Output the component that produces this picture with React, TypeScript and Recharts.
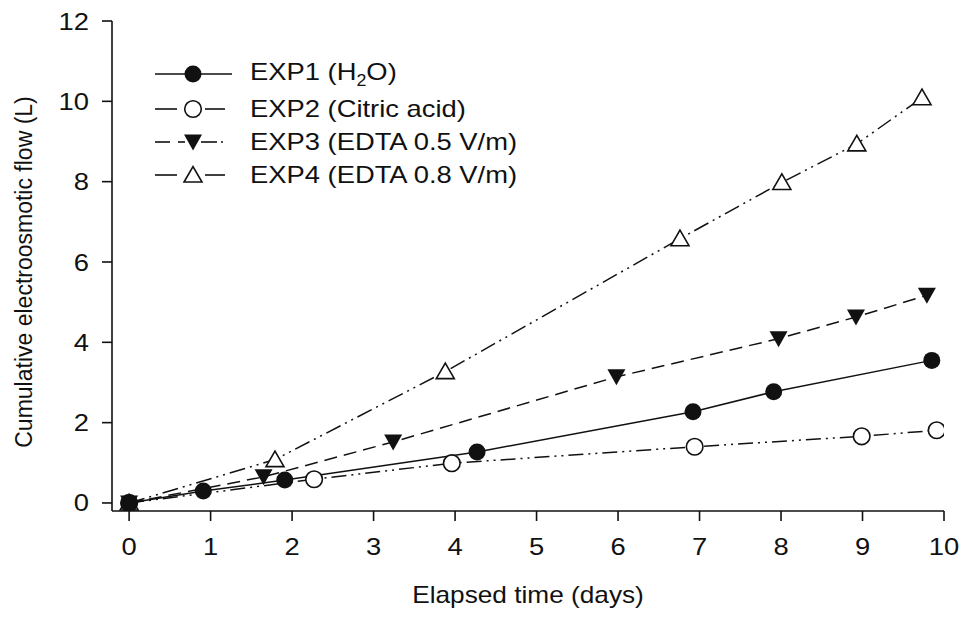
import React from 'react';
import { LineChart, Line, XAxis, YAxis, Legend } from 'recharts';

const exp1X = [0, 0.91, 1.91, 4.27, 6.92, 7.91, 9.85];
const exp1Y = [0, 0.3, 0.57, 1.27, 2.27, 2.77, 3.55];
const exp2X = [0, 2.27, 3.96, 6.94, 8.99, 9.91];
const exp2Y = [0, 0.59, 0.99, 1.4, 1.66, 1.81];
const exp3X = [0, 1.65, 3.24, 5.98, 7.97, 8.92, 9.79];
const exp3Y = [0, 0.65, 1.52, 3.14, 4.09, 4.63, 5.17];
const exp4X = [0, 1.79, 3.88, 6.76, 8.01, 8.93, 9.73];
const exp4Y = [0, 1.08, 3.27, 6.58, 7.98, 8.94, 10.09];

const xTicks = [0, 1, 2, 3, 4, 5, 6, 7, 8, 9, 10];
const yTicks = [0, 2, 4, 6, 8, 10, 12];

const toPoints = (xs: number[], ys: number[]) => xs.map((x, i) => ({ x, y: ys[i] }));

const FONT = '"Liberation Sans", Arial, Helvetica, sans-serif';
const INK = '#111';
const SX = 1.14;

type Kind = 'filledCircle' | 'openCircle' | 'downTri' | 'upTri';

const Marker = ({ kind, cx, cy }: { kind: Kind; cx: number; cy: number }) => {
  if (cx == null || cy == null) return null;
  if (kind === 'filledCircle') return <circle cx={cx} cy={cy} r={8.5} fill={INK} />;
  if (kind === 'openCircle')
    return <circle cx={cx} cy={cy} r={8.3} fill="#fff" stroke={INK} strokeWidth={1.6} />;
  if (kind === 'downTri')
    return (
      <polygon
        points={`${cx - 9},${cy - 7.5} ${cx + 9},${cy - 7.5} ${cx},${cy + 8.5}`}
        fill={INK}
      />
    );
  return (
    <polygon
      points={`${cx - 9},${cy + 7} ${cx + 9},${cy + 7} ${cx},${cy - 8.5}`}
      fill="#fff"
      stroke={INK}
      strokeWidth={1.6}
    />
  );
};

const series = [
  { name: 'EXP4 (EDTA 0.8 V/m)', data: toPoints(exp4X, exp4Y), kind: 'upTri' as Kind, dash: '16 5 2 5 2 5' },
  { name: 'EXP3 (EDTA 0.5 V/m)', data: toPoints(exp3X, exp3Y), kind: 'downTri' as Kind, dash: '13 7' },
  { name: 'EXP2 (Citric acid)', data: toPoints(exp2X, exp2Y), kind: 'openCircle' as Kind, dash: '15 5 2 5 2 5' },
  { name: 'EXP1 (H2O)', data: toPoints(exp1X, exp1Y), kind: 'filledCircle' as Kind, dash: undefined as string | undefined },
];

const XTick = (props: any) => {
  const { x, y, payload } = props;
  return (
    <g transform={`translate(${x},${y + 20}) scale(${SX},1)`}>
      <text textAnchor="middle" fontFamily={FONT} fontSize={24} fill={INK}>
        {payload.value}
      </text>
    </g>
  );
};

const YTick = (props: any) => {
  const { x, y, payload } = props;
  return (
    <g transform={`translate(${x},${y}) scale(${SX},1)`}>
      <text textAnchor="end" dy="0.355em" fontFamily={FONT} fontSize={24} fill={INK}>
        {payload.value}
      </text>
    </g>
  );
};

const XTitle = (props: any) => {
  const vb = props.viewBox || {};
  const cx = (vb.x ?? 112) + (vb.width ?? 832) / 2;
  return (
    <g transform={`translate(${cx},603) scale(${SX},1)`}>
      <text textAnchor="middle" fontFamily={FONT} fontSize={23} fill={INK}>
        Elapsed time (days)
      </text>
    </g>
  );
};

const YTitle = (props: any) => {
  const vb = props.viewBox || {};
  const cy = (vb.y ?? 21) + (vb.height ?? 490) / 2 + 6;
  return (
    <text
      transform={`translate(32,${cy}) rotate(-90)`}
      textAnchor="middle"
      fontFamily={FONT}
      fontSize={23}
      fill={INK}
    >
      Cumulative electroosmotic flow (L)
    </text>
  );
};

const legendRows = [
  { label: <>EXP1 (H<sub style={{ fontSize: '0.65em' }}>2</sub>O)</>, kind: 'filledCircle' as Kind, segs: [[0, 77]] },
  { label: <>EXP2 (Citric acid)</>, kind: 'openCircle' as Kind, segs: [[0, 22], [50, 70]] },
  { label: <>EXP3 (EDTA 0.5 V/m)</>, kind: 'downTri' as Kind, segs: [[0, 15], [23, 30], [46, 62], [66, 68]] },
  { label: <>EXP4 (EDTA 0.8 V/m)</>, kind: 'upTri' as Kind, segs: [[0, 22], [50, 70]] },
];

const rowHeights = [36, 34, 32, 34];

const renderLegend = () => (
  <div style={{ fontFamily: FONT, color: INK }}>
    {legendRows.map((r, i) => (
      <div key={i} style={{ display: 'flex', alignItems: 'center', height: rowHeights[i] }}>
        <svg width={95} height={30} style={{ overflow: 'visible' }}>
          {r.segs.map((s, j) => (
            <line key={j} x1={s[0]} x2={s[1]} y1={15} y2={15} stroke={INK} strokeWidth={1.6} />
          ))}
          <Marker kind={r.kind} cx={38} cy={15} />
        </svg>
        <span
          style={{
            fontSize: 24,
            whiteSpace: 'nowrap',
            display: 'inline-block',
            transform: `scale(${SX},1)`,
            transformOrigin: 'left center',
          }}
        >
          {r.label}
        </span>
      </div>
    ))}
  </div>
);

export default function App() {
  return (
    <div style={{ position: 'absolute', left: 0, top: 0, background: '#fff' }}>
      <LineChart width={963} height={619} margin={{ top: 21, right: 19, bottom: 0, left: 0 }}>
        <XAxis
          xAxisId="top"
          orientation="top"
          type="number"
          dataKey="x"
          domain={[-0.21, 10]}
          allowDataOverflow
          height={0}
          tick={false}
          tickLine={false}
          axisLine={{ stroke: INK, strokeWidth: 1.6 }}
        />
        <YAxis
          yAxisId="right"
          orientation="right"
          type="number"
          domain={[-0.2, 12]}
          allowDataOverflow
          width={0}
          tick={false}
          tickLine={false}
          axisLine={{ stroke: INK, strokeWidth: 1.6 }}
        />
        <XAxis
          type="number"
          dataKey="x"
          domain={[-0.21, 10]}
          ticks={xTicks}
          allowDataOverflow
          height={108}
          tickSize={10}
          tickMargin={14}
          tick={<XTick />}
          tickLine={{ stroke: INK, strokeWidth: 1.6 }}
          axisLine={{ stroke: INK, strokeWidth: 1.6 }}
          label={<XTitle />}
        />
        <YAxis
          type="number"
          dataKey="y"
          domain={[-0.2, 12]}
          ticks={yTicks}
          allowDataOverflow
          width={112}
          tickSize={10}
          tickMargin={13}
          tick={<YTick />}
          tickLine={{ stroke: INK, strokeWidth: 1.6 }}
          axisLine={{ stroke: INK, strokeWidth: 1.6 }}
          label={<YTitle />}
        />
        <Legend
          layout="vertical"
          align="center"
          verticalAlign="middle"
          content={renderLegend}
          wrapperStyle={{ left: 155, top: 56, width: 'auto', height: 'auto' }}
        />
        {series.map((s) => (
          <Line
            key={s.name}
            name={s.name}
            data={s.data}
            dataKey="y"
            type="linear"
            stroke={INK}
            strokeWidth={1.5}
            strokeDasharray={s.dash}
            isAnimationActive={false}
            legendType="none"
            dot={(p: any) => <Marker key={`${s.name}-${p.index}`} kind={s.kind} cx={p.cx} cy={p.cy} />}
            activeDot={false}
          />
        ))}
      </LineChart>
    </div>
  );
}
